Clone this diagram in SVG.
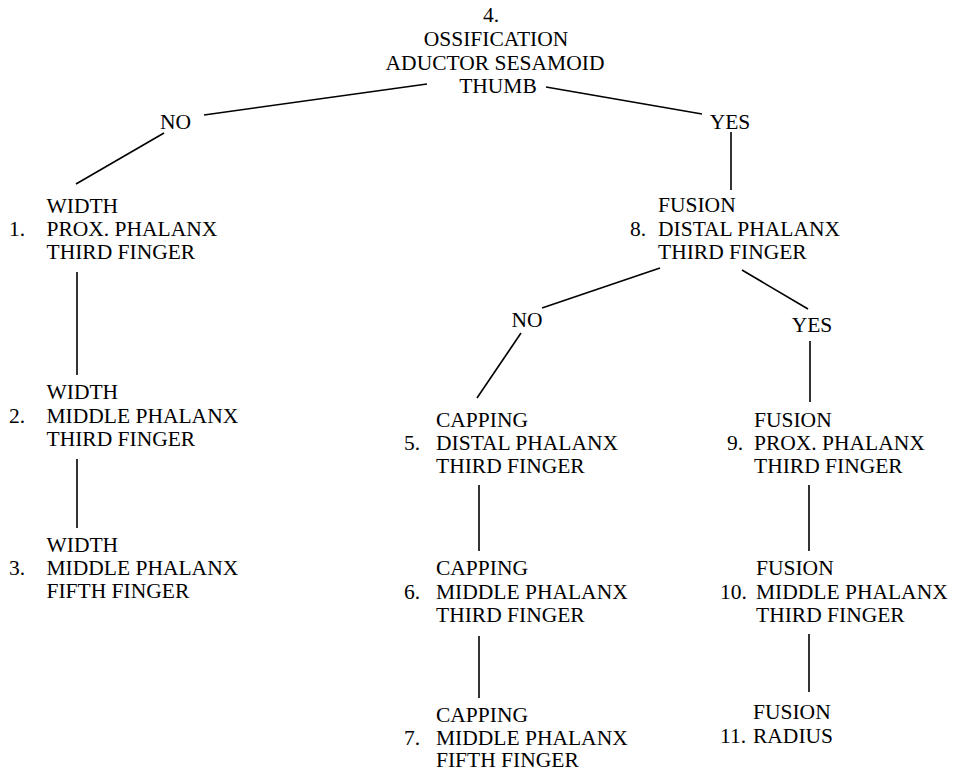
<svg xmlns="http://www.w3.org/2000/svg" width="953" height="771" viewBox="0 0 953 771">
<style>
text{font-family:"Liberation Serif","Times New Roman",serif;font-size:21.5px;fill:#000}
.c{text-anchor:middle}
line{stroke:#000;stroke-width:1.6;stroke-linecap:butt}
</style>
<rect width="953" height="771" fill="#fff"/>
<g id="connectors">
<line x1="204" y1="115" x2="427" y2="84"/>
<line x1="546" y1="87" x2="702" y2="114"/>
<line x1="164" y1="133" x2="76" y2="184"/>
<line x1="77" y1="272" x2="77" y2="375"/>
<line x1="77" y1="459" x2="77" y2="528"/>
<line x1="731" y1="132" x2="731" y2="190"/>
<line x1="660" y1="268" x2="542" y2="308"/>
<line x1="521" y1="333" x2="477" y2="398"/>
<line x1="742" y1="270" x2="808" y2="309"/>
<line x1="810" y1="341" x2="810" y2="402"/>
<line x1="479" y1="485" x2="479" y2="551"/>
<line x1="479" y1="636" x2="479" y2="698"/>
<line x1="809" y1="485" x2="809" y2="551"/>
<line x1="809" y1="634" x2="809" y2="692"/>
</g>
<g id="node4">
<text class="c" x="491" y="22">4.</text>
<text class="c" x="496" y="46">OSSIFICATION</text>
<text class="c" x="495" y="70">ADUCTOR SESAMOID</text>
<text class="c" x="498" y="93">THUMB</text>
</g>
<g id="label-no-1"><text class="c" x="175.5" y="128.5">NO</text></g>
<g id="label-yes-1"><text class="c" x="730" y="129">YES</text></g>
<g id="node1">
<text x="46.5" y="213">WIDTH</text>
<text x="9" y="236">1.</text>
<text x="46.5" y="236">PROX. PHALANX</text>
<text x="46.5" y="259">THIRD FINGER</text>
</g>
<g id="node2">
<text x="46.5" y="399">WIDTH</text>
<text x="9" y="423">2.</text>
<text x="46.5" y="423">MIDDLE PHALANX</text>
<text x="46.5" y="446">THIRD FINGER</text>
</g>
<g id="node3">
<text x="46.5" y="552">WIDTH</text>
<text x="9" y="575">3.</text>
<text x="46.5" y="575">MIDDLE PHALANX</text>
<text x="46.5" y="598">FIFTH FINGER</text>
</g>
<g id="node8">
<text x="658" y="212">FUSION</text>
<text x="630" y="235.5">8.</text>
<text x="658" y="235.5">DISTAL PHALANX</text>
<text x="658" y="259">THIRD FINGER</text>
</g>
<g id="label-no-2"><text class="c" x="527" y="327">NO</text></g>
<g id="label-yes-2"><text class="c" x="812" y="331.5">YES</text></g>
<g id="node5">
<text x="436" y="427">CAPPING</text>
<text x="404" y="450">5.</text>
<text x="436" y="450">DISTAL PHALANX</text>
<text x="436" y="473">THIRD FINGER</text>
</g>
<g id="node6">
<text x="436" y="575">CAPPING</text>
<text x="404" y="599">6.</text>
<text x="436" y="599">MIDDLE PHALANX</text>
<text x="436" y="622">THIRD FINGER</text>
</g>
<g id="node7">
<text x="436" y="721.5">CAPPING</text>
<text x="404" y="744.5">7.</text>
<text x="436" y="744.5">MIDDLE PHALANX</text>
<text x="436" y="767">FIFTH FINGER</text>
</g>
<g id="node9">
<text x="754" y="427">FUSION</text>
<text x="727" y="450">9.</text>
<text x="754" y="450">PROX. PHALANX</text>
<text x="754" y="473">THIRD FINGER</text>
</g>
<g id="node10">
<text x="756" y="575">FUSION</text>
<text x="720" y="599">10.</text>
<text x="756" y="599">MIDDLE PHALANX</text>
<text x="756" y="622">THIRD FINGER</text>
</g>
<g id="node11">
<text x="753" y="719">FUSION</text>
<text x="720" y="743">11.</text>
<text x="753" y="743">RADIUS</text>
</g>
</svg>
